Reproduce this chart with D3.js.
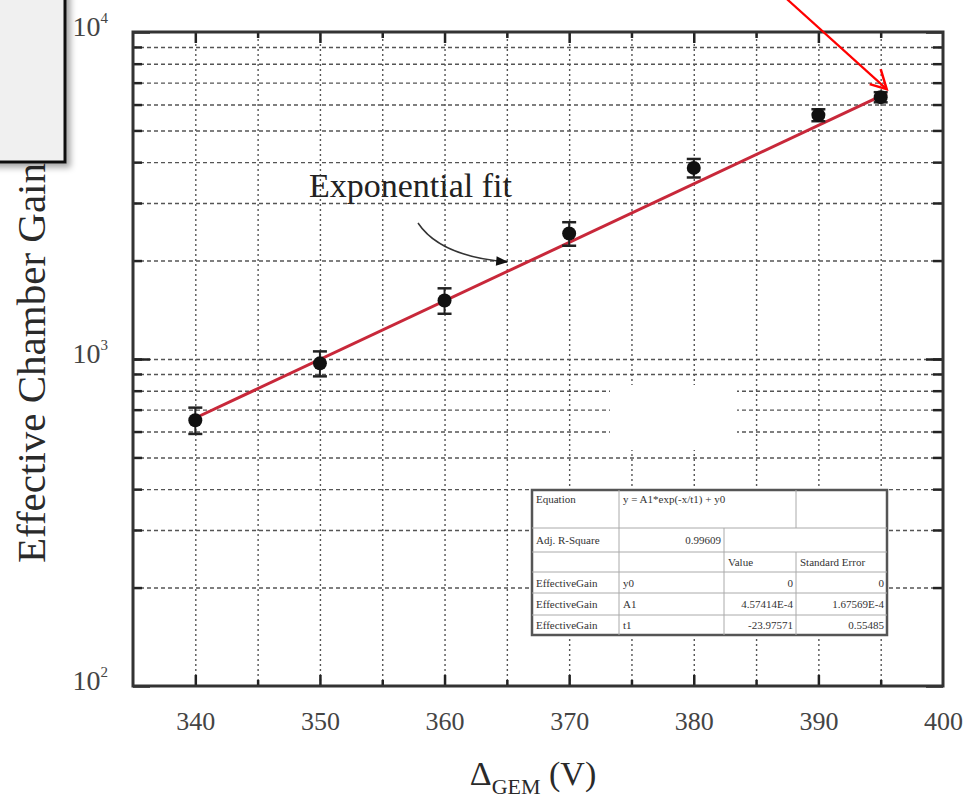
<!DOCTYPE html>
<html>
<head>
<meta charset="utf-8">
<script src="https://cdn.jsdelivr.net/npm/d3@7"></script>
<style>
  body { margin: 0; background: #fff; }
  svg { display: block; font-family: "Liberation Serif", "DejaVu Serif", serif; }
</style>
</head>
<body>
<div id="chart"></div>
<script>
// Dados
const voltage = [340, 350, 360, 370, 380, 390, 395];
const gain = [650, 970, 1510, 2420, 3840, 5570, 6320];
const gainErr = [60, 85, 135, 200, 250, 235, 225];
const fitVoltage = [340, 395.5];
const fitGain = [660, 6500];
const xTickLabels = [340, 350, 360, 370, 380, 390, 400];
const xGrid = [340, 345, 350, 355, 360, 365, 370, 375, 380, 385, 390, 395];
const yDecades = [100, 1000, 10000];
const yGrid = [200, 300, 400, 500, 600, 700, 800, 900, 1000, 2000, 3000, 4000, 5000, 6000, 7000, 8000, 9000];
const tableRows = [
  ["Equation", "y = A1*exp(-x/t1) + y0", "", ""],
  ["Adj. R-Square", "0.99609", "", ""],
  ["", "", "Value", "Standard Error"],
  ["EffectiveGain", "y0", "0", "0"],
  ["EffectiveGain", "A1", "4.57414E-4", "1.67569E-4"],
  ["EffectiveGain", "t1", "-23.97571", "0.55485"]
];

// Definições do gráfico
const W = 980, H = 800;
const margin = { top: 32, right: 37, bottom: 114, left: 133 };
const width = W - margin.left - margin.right;
const height = H - margin.top - margin.bottom;

const svg = d3.select("#chart").append("svg")
  .attr("width", W)
  .attr("height", H);

const defs = svg.append("defs");
defs.append("filter").attr("id", "shadow")
  .attr("x", "-20%").attr("y", "-20%").attr("width", "150%").attr("height", "150%")
  .append("feDropShadow")
  .attr("dx", 4).attr("dy", 4).attr("stdDeviation", 3)
  .attr("flood-color", "#000").attr("flood-opacity", 0.35);
defs.append("marker").attr("id", "blackHead")
  .attr("viewBox", "0 0 10 10").attr("refX", 9).attr("refY", 5)
  .attr("markerUnits", "userSpaceOnUse")
  .attr("markerWidth", 18).attr("markerHeight", 12)
  .attr("orient", "auto")
  .append("path").attr("d", "M0,1 L10,5 L0,9 Z").attr("fill", "#111");

const g = svg.append("g")
  .attr("transform", `translate(${margin.left},${margin.top})`);

// Escalas
const x = d3.scaleLinear().domain([335, 400]).range([0, width]);
const y = d3.scaleLog().domain([100, 10000]).range([height, 0]);

// Grade
g.append("g")
  .attr("class", "grid-x")
  .attr("transform", `translate(0,${height})`)
  .call(d3.axisBottom(x).tickValues(xGrid).tickSize(-height).tickFormat(""))
  .call(s => s.select(".domain").remove())
  .call(s => s.selectAll("line")
    .attr("stroke", "#555").attr("stroke-width", 1.4).attr("stroke-dasharray", "2,3"));

g.append("g")
  .attr("class", "grid-y")
  .call(d3.axisLeft(y).tickValues(yGrid).tickSize(-width).tickFormat(""))
  .call(s => s.select(".domain").remove())
  .call(s => s.selectAll("line")
    .attr("stroke", "#555").attr("stroke-width", 1.4).attr("stroke-dasharray", "4,3"));

// Mancha branca no meio da grade
g.append("rect")
  .attr("x", 477).attr("y", 353).attr("width", 127).attr("height", 65)
  .attr("fill", "#fff");

// Tabela do ajuste
const colX = [0, 87, 192, 264, 355];
const rowY = [0, 38, 62, 82, 103, 125, 145];
const table = g.append("g").attr("transform", "translate(399,458)");
table.append("rect")
  .attr("x", 0).attr("y", 0).attr("width", colX[4]).attr("height", rowY[6])
  .attr("fill", "#fff").attr("stroke", "#555").attr("stroke-width", 2.5);
rowY.slice(1, 6).forEach(ry => {
  table.append("line").attr("x1", 0).attr("x2", colX[4]).attr("y1", ry).attr("y2", ry)
    .attr("stroke", "#aaa").attr("stroke-width", 1);
});
// linhas verticais de cada linha (células mescladas)
const rowCuts = [[1, 3], [1, 2], [1, 2, 3], [1, 2, 3], [1, 2, 3], [1, 2, 3]];
rowCuts.forEach((cuts, r) => {
  cuts.forEach(c => {
    table.append("line")
      .attr("x1", colX[c]).attr("x2", colX[c])
      .attr("y1", rowY[r]).attr("y2", rowY[r + 1])
      .attr("stroke", "#aaa").attr("stroke-width", 1);
  });
});
tableRows.forEach((row, r) => {
  row.forEach((txt, c) => {
    if (!txt) return;
    const rightAlign = (r >= 3 && c >= 2) || (r === 1 && c === 1);
    table.append("text")
      .attr("x", rightAlign ? colX[c + 1] - 3 : colX[c] + 4)
      .attr("y", r === 0 ? 13 : (rowY[r] + rowY[r + 1]) / 2 + 4)
      .attr("text-anchor", rightAlign ? "end" : "start")
      .style("font-size", "11px")
      .attr("fill", "#333")
      .text(txt);
  });
});

// Linha do ajuste exponencial
const fitData = fitVoltage.map((v, i) => ({ v, g: fitGain[i] }));
g.append("path")
  .datum(fitData)
  .attr("fill", "none")
  .attr("stroke", "#c8283a")
  .attr("stroke-width", 3)
  .attr("d", d3.line().x(d => x(d.v)).y(d => y(d.g)));

// Pontos com barras de erro
const pts = voltage.map((v, i) => ({ v, g: gain[i], e: gainErr[i] }));
const pg = g.selectAll(".pt").data(pts).enter().append("g").attr("class", "pt");
pg.append("line")
  .attr("x1", d => x(d.v)).attr("x2", d => x(d.v))
  .attr("y1", d => y(d.g + d.e)).attr("y2", d => y(d.g - d.e))
  .attr("stroke", "#222").attr("stroke-width", 2);
pg.append("line")
  .attr("x1", d => x(d.v) - 7).attr("x2", d => x(d.v) + 7)
  .attr("y1", d => y(d.g + d.e)).attr("y2", d => y(d.g + d.e))
  .attr("stroke", "#222").attr("stroke-width", 2.5);
pg.append("line")
  .attr("x1", d => x(d.v) - 7).attr("x2", d => x(d.v) + 7)
  .attr("y1", d => y(d.g - d.e)).attr("y2", d => y(d.g - d.e))
  .attr("stroke", "#222").attr("stroke-width", 2.5);
pg.append("circle")
  .attr("cx", d => x(d.v)).attr("cy", d => y(d.g))
  .attr("r", 7).attr("fill", "#111");

// Eixos (ticks para dentro)
const tickStyle = s => {
  s.select(".domain").remove();
  s.selectAll("line").attr("stroke", "#222").attr("stroke-width", 2.5);
};
const xMajor = xGrid.filter(v => v % 10 === 0);
const xMinor = xGrid.filter(v => v % 10 !== 0);
g.append("g").attr("transform", `translate(0,${height})`)
  .call(d3.axisBottom(x).tickValues(xMajor).tickSize(-11).tickFormat("")).call(tickStyle);
g.append("g").attr("transform", `translate(0,${height})`)
  .call(d3.axisBottom(x).tickValues(xMinor).tickSize(-6).tickFormat("")).call(tickStyle);
g.append("g")
  .call(d3.axisTop(x).tickValues(xMajor).tickSize(-11).tickFormat("")).call(tickStyle);
g.append("g")
  .call(d3.axisTop(x).tickValues(xMinor).tickSize(-6).tickFormat("")).call(tickStyle);
g.append("g")
  .call(d3.axisLeft(y).tickValues(yDecades).tickSize(-17).tickFormat("")).call(tickStyle);
g.append("g")
  .call(d3.axisLeft(y).tickValues(yGrid).tickSize(-9).tickFormat("")).call(tickStyle);
g.append("g").attr("transform", `translate(${width},0)`)
  .call(d3.axisRight(y).tickValues(yDecades).tickSize(-17).tickFormat("")).call(tickStyle);
g.append("g").attr("transform", `translate(${width},0)`)
  .call(d3.axisRight(y).tickValues(yGrid).tickSize(-10).tickFormat("")).call(tickStyle);

// Moldura
g.append("rect")
  .attr("width", width).attr("height", height)
  .attr("fill", "none").attr("stroke", "#333").attr("stroke-width", 3);

// Rótulos do eixo x
g.append("g").attr("transform", `translate(0,${height})`)
  .call(d3.axisBottom(x).tickValues(xTickLabels).tickSize(0).tickPadding(26).tickFormat(d3.format("d")))
  .call(s => s.select(".domain").remove())
  .call(s => s.selectAll("text")
    .style("font-family", "Liberation Serif, serif")
    .style("font-size", "26px").attr("fill", "#444"));

// Rótulos do eixo y (10^n)
g.append("g")
  .call(d3.axisLeft(y).tickValues(yDecades).tickSize(0).tickPadding(25).tickFormat(""))
  .call(s => s.select(".domain").remove())
  .call(s => s.selectAll(".tick text").each(function (d) {
    const t = d3.select(this)
      .style("font-family", "Liberation Serif, serif")
      .attr("fill", "#444").attr("dy", "0.35em");
    t.append("tspan").style("font-size", "28px").text("10");
    t.append("tspan").style("font-size", "15px").attr("dy", "-0.9em")
      .text(Math.round(Math.log10(d)));
  }));

// Título do eixo y
svg.append("text")
  .attr("transform", "rotate(-90)")
  .attr("x", -363).attr("y", 45)
  .attr("text-anchor", "middle")
  .attr("textLength", 400).attr("lengthAdjust", "spacingAndGlyphs")
  .style("font-size", "40px").attr("fill", "#2a2a2a")
  .text("Effective Chamber Gain");

// Título do eixo x
const xl = svg.append("text")
  .attr("x", 533).attr("y", 785)
  .attr("text-anchor", "middle")
  .attr("fill", "#2a2a2a");
xl.append("tspan").style("font-size", "34px").text("\u0394");
xl.append("tspan").style("font-size", "22px").attr("dy", 9).text("GEM");
xl.append("tspan").style("font-size", "34px").attr("dy", -9).text(" (V)");

// Anotação "Exponential fit"
svg.append("text")
  .attr("x", 309).attr("y", 197)
  .style("font-size", "34px").attr("fill", "#222")
  .text("Exponential fit");
svg.append("path")
  .attr("d", "M418,223 C432,244 460,258 507,262")
  .attr("fill", "none").attr("stroke", "#333").attr("stroke-width", 1.5)
  .attr("marker-end", "url(#blackHead)");

// Seta vermelha apontando para o último ponto
const tipX = margin.left + x(395) + 6, tipY = margin.top + y(6320) - 8;
svg.append("line")
  .attr("x1", tipX - 103).attr("y1", tipY - 93).attr("x2", tipX).attr("y2", tipY)
  .attr("stroke", "#f00").attr("stroke-width", 2.2);
svg.append("path")
  .attr("d", `M${tipX - 6},${tipY - 20} L${tipX},${tipY} L${tipX - 17},${tipY - 5}`)
  .attr("fill", "none").attr("stroke", "#f00").attr("stroke-width", 2.5);

// Caixa cinza no canto superior esquerdo
svg.append("rect")
  .attr("x", -10).attr("y", -10).attr("width", 75).attr("height", 172)
  .attr("fill", "#f0f0f0").attr("stroke", "#111").attr("stroke-width", 3)
  .attr("filter", "url(#shadow)");
</script>
</body>
</html>
